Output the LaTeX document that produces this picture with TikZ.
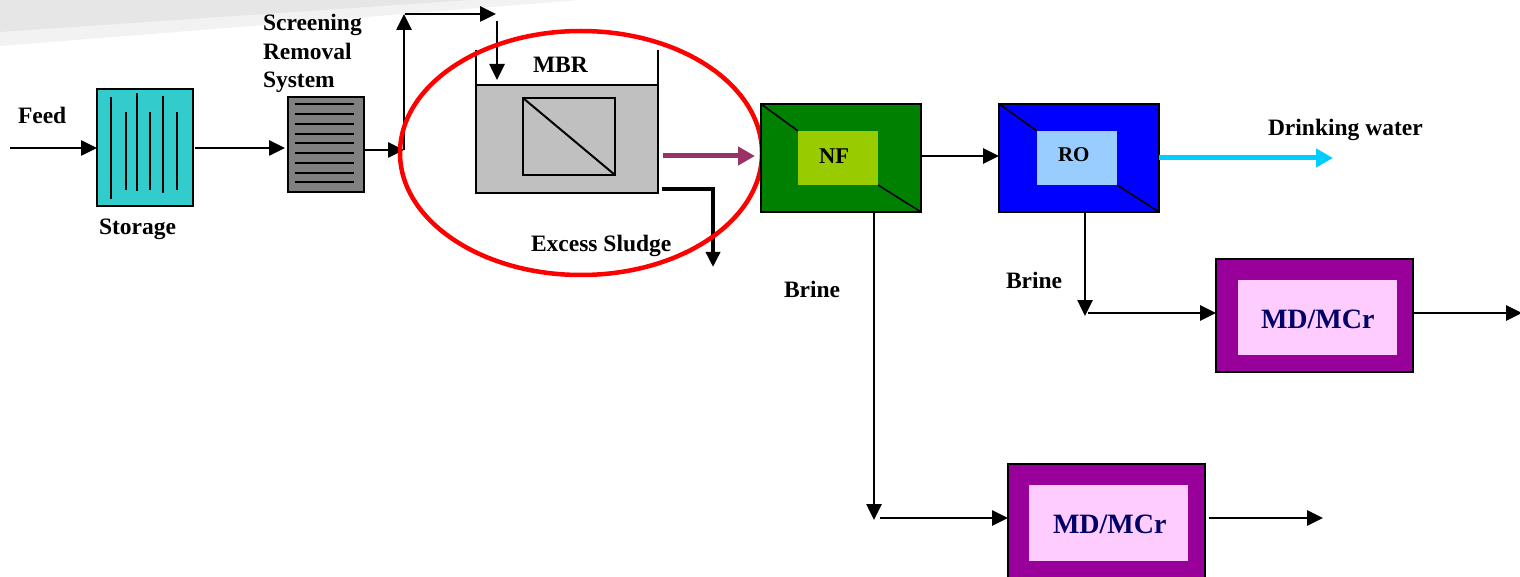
\documentclass[tikz,border=0pt]{standalone}
\usepackage{fontspec}
\setmainfont{Liberation Serif}
\usetikzlibrary{arrows.meta}
\definecolor{stor}{HTML}{33CCCC}
\definecolor{scrg}{HTML}{808080}
\definecolor{tank}{HTML}{C0C0C0}
\definecolor{nfg}{HTML}{008000}
\definecolor{nfin}{HTML}{99CC00}
\definecolor{rob}{HTML}{0000FF}
\definecolor{roin}{HTML}{99CCFF}
\definecolor{mdo}{HTML}{990099}
\definecolor{mdi}{HTML}{FFCCFF}
\definecolor{mdt}{HTML}{000066}
\definecolor{parr}{HTML}{993366}
\definecolor{carr}{HTML}{00CCFF}
\definecolor{bgd}{HTML}{E6E6E6}
\definecolor{bgl}{HTML}{F2F2F2}
\newcommand\lblfont{\fontsize{23.5}{28.5}\selectfont\bfseries}
\begin{document}
\begin{tikzpicture}[x=1pt,y=-1pt,line width=2pt,
  arr/.style={line width=2.6pt,-{Triangle[length=16pt,width=15pt]}},
  fatarr/.style={line width=5pt,-{Triangle[length=17pt,width=18pt]}},
  lbl/.style={anchor=base west,inner sep=0pt,font=\lblfont},
  box/.style={draw=black,line width=2.4pt,inner sep=0pt,outer sep=0pt,anchor=north west},
  inbox/.style={inner sep=0pt,outer sep=0pt,anchor=north west}]
\useasboundingbox (0,0) rectangle (1520,577);
% slide background band
\fill[bgl] (0,0) -- (580,0) -- (0,46) -- cycle;
\fill[bgd] (0,0) -- (470,0) -- (0,32) -- cycle;

% Feed and storage
\node[lbl] (feed) at (17,124) {Feed};
\coordinate (feedin) at (10,148);
\node[box,fill=stor,minimum width=96pt,minimum height=117pt] (storage) at (97,89) {};
\foreach \x/\a/\b in {111/97/199,126/112/190,137/93/191,150/112/190,163/96/193,177/112/190}
  \draw (\x,\a) -- (\x,\b);
\node[lbl] (storlbl) at (98,235) {Storage};
\draw[arr] (feedin) -- (feedin -| storage.west);

% Screening
\node[box,fill=scrg,minimum width=76pt,minimum height=95pt] (screen) at (288,97) {};
\foreach \y in {104,114,124,134,143,153,163,173,182}
  \draw (295,\y) -- (354,\y);
\node[lbl] (scr1) at (262,31) {Screening};
\node[lbl] (scr2) at (262,59.5) {Removal};
\node[lbl] (scr3) at (262,88) {System};
\coordinate (s1) at (195,148);
\draw[arr] (s1) -- ([xshift=-3pt]s1 -| screen.west);

% Recirculation to MBR
\coordinate (j) at (404,150);
\coordinate (up) at (404,14);
\coordinate (ur) at (496,14);
\coordinate (dtop) at (497,21);
\coordinate (dbot) at (497,80);
\draw[arr] (screen.east |- j) -- (j);
\draw[arr] (j) -- (up);
\draw[arr] ([xshift=1pt]up) -- (ur);
\draw[arr] (dtop) -- (dbot);

% MBR
\node[box,draw=none,fill=tank,minimum width=182pt,minimum height=108pt] (mbr) at (476,85) {};
\draw (mbr.north west) -- (mbr.north east);
\draw (476,50) -- (476,193) -- (658,193) -- (658,50);
\node[box,line width=2pt,minimum width=92pt,minimum height=77pt] (mem) at (523,98) {};
\draw (mem.north west) -- (mem.south east);
\node[lbl] (mbrlbl) at (532,73) {MBR};
\coordinate (ps) at (663,156);
\coordinate (ex1) at (662,189);
\coordinate (ex2) at (713,267);
\draw[line width=3.5pt,-{Triangle[length=15pt,width=14pt]}] (ex1) -- (ex1 -| ex2) -- (ex2);
\node[lbl] (exlbl) at (530,252) {Excess Sludge};
\draw[red,line width=4.5pt] (581,153) ellipse [x radius=181, y radius=122];

% NF
\node[box,fill=nfg,minimum width=160pt,minimum height=108pt] (nf) at (761,104) {};
\node[inbox,fill=nfin,minimum width=80pt,minimum height=54pt] (nfi) at (798,131) {};
\draw[line width=1.6pt] (nf.north west) -- (nfi.north west);
\draw[line width=1.6pt] (nfi.south east) -- (nf.south east);
\node[lbl,font=\fontsize{22.5}{26}\selectfont\bfseries] (nflbl) at (818,164) {NF};
\draw[parr,fatarr,shorten >=6pt] (ps) -- (ps -| nf.west);

% RO
\node[box,fill=rob,minimum width=160pt,minimum height=108pt] (ro) at (999,104) {};
\node[inbox,fill=roin,minimum width=80pt,minimum height=54pt] (roi) at (1037,131) {};
\draw[line width=1.6pt] (ro.north west) -- (roi.north west);
\draw[line width=1.6pt] (roi.south east) -- (ro.south east);
\node[lbl,font=\fontsize{21}{25}\selectfont\bfseries] (rolbl) at (1057,162) {RO};
\draw[arr] (nf.east |- 0,156) -- (ro.west |- 0,156);

% Drinking water
\coordinate (dw) at (1333,158);
\draw[carr,fatarr] (ro.east |- dw) -- (dw);
\node[lbl] (dwlbl) at (1267,136) {Drinking water};

% RO brine -> MD/MCr 1
\node[box,fill=mdo,minimum width=197pt,minimum height=113pt] (md1) at (1216,259) {};
\node[inbox,fill=mdi,minimum width=159pt,minimum height=75pt] (md1i) at (1238,280) {};
\node[lbl,font=\fontsize{28}{32}\selectfont\bfseries,text=mdt] (md1lbl) at (1260,328) {MD/MCr};
\coordinate (rb) at (1085,316);
\draw[arr] (ro.south -| rb) -- (rb);
\coordinate (rb2) at (1088,313);
\draw[arr] (rb2) -- (rb2 -| md1.west);
\node[lbl] (brine2) at (1005,289) {Brine};
\coordinate (out1) at (1522,313);
\draw[arr] (md1.east |- out1) -- (out1);

% NF brine -> MD/MCr 2
\node[box,fill=mdo,minimum width=197pt,minimum height=118pt] (md2) at (1008,464) {};
\node[inbox,fill=mdi,minimum width=159pt,minimum height=76pt] (md2i) at (1029,485) {};
\node[lbl,font=\fontsize{28}{32}\selectfont\bfseries,text=mdt] (md2lbl) at (1052,533) {MD/MCr};
\coordinate (nb) at (874,520);
\draw[arr] (nf.south -| nb) -- (nb);
\coordinate (nb2) at (880,518);
\draw[arr] (nb2) -- (nb2 -| md2.west);
\node[lbl] (brine1) at (783,298) {Brine};
\coordinate (out2s) at (1209,518);
\coordinate (out2) at (1323,518);
\draw[arr] (out2s) -- (out2);
\end{tikzpicture}
\end{document}
